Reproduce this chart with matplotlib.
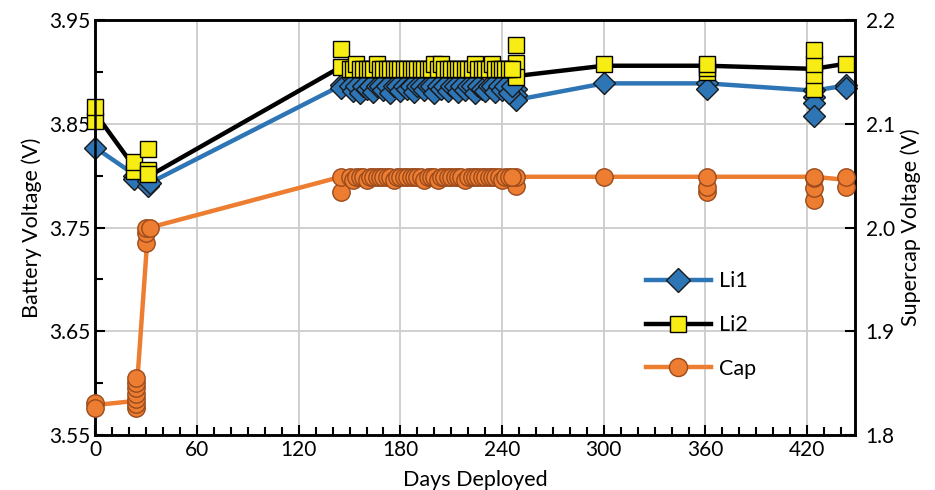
import numpy as np
import matplotlib
matplotlib.use("Agg")
import matplotlib.pyplot as plt
from matplotlib.lines import Line2D
from matplotlib.ticker import MultipleLocator

plt.rcParams['font.family'] = ['Lato', 'DejaVu Sans']

# ---- data ----
# days of the dense middle cluster of readings
mid_days = [145, 150, 152, 154, 156, 158, 160, 162, 164, 166, 168, 170, 172, 174,
            176, 178, 180, 182, 184, 186, 188, 190, 192, 194, 196, 198, 200, 202,
            204, 206, 208, 210, 212, 214, 216, 218, 220, 222, 224, 226, 228, 230,
            232, 234, 236, 238, 240, 242, 244, 246]
mid_li1 = [3.885, 3.886, 3.882, 3.886, 3.880, 3.886, 3.884, 3.886, 3.881, 3.886,
           3.886, 3.883, 3.886, 3.880, 3.886, 3.886, 3.882, 3.886, 3.884, 3.886,
           3.881, 3.886, 3.886, 3.883, 3.886, 3.886, 3.880, 3.886, 3.884, 3.886,
           3.882, 3.886, 3.886, 3.881, 3.886, 3.883, 3.886, 3.886, 3.880, 3.886,
           3.884, 3.882, 3.886, 3.886, 3.881, 3.886, 3.883, 3.886, 3.880, 3.886]
mid_li2 = [3.905, 3.903, 3.903, 3.908, 3.903, 3.903, 3.903, 3.903, 3.903, 3.908,
           3.903, 3.903, 3.903, 3.903, 3.903, 3.903, 3.903, 3.903, 3.903, 3.903,
           3.903, 3.903, 3.903, 3.903, 3.903, 3.903, 3.908, 3.903, 3.908, 3.903,
           3.903, 3.903, 3.903, 3.903, 3.903, 3.903, 3.903, 3.903, 3.908, 3.903,
           3.903, 3.903, 3.903, 3.908, 3.903, 3.903, 3.903, 3.903, 3.903, 3.903]
mid_cap = [2.049, 2.049, 2.046, 2.049, 2.049, 2.049, 2.046, 2.049, 2.049, 2.049,
           2.049, 2.049, 2.049, 2.049, 2.046, 2.049, 2.049, 2.049, 2.049, 2.049,
           2.049, 2.049, 2.049, 2.046, 2.049, 2.049, 2.049, 2.046, 2.049, 2.049,
           2.049, 2.049, 2.049, 2.049, 2.049, 2.046, 2.049, 2.049, 2.049, 2.049,
           2.049, 2.049, 2.049, 2.049, 2.049, 2.049, 2.046, 2.049, 2.049, 2.049]

# readings outside the middle cluster
li1_days = [0, 23, 23, 31, 31, 32, 145, 248, 248, 248, 300, 361, 361, 424, 424, 424, 424, 443, 443]
li1_vals = [3.827, 3.800, 3.797, 3.795, 3.790, 3.793, 3.887, 3.884, 3.878, 3.873,
            3.889, 3.889, 3.884, 3.883, 3.876, 3.870, 3.858, 3.887, 3.885]
li2_days = [0, 0, 23, 23, 31, 31, 31, 145, 248, 248, 248, 300, 361, 361, 361, 424, 424, 424, 424, 443]
li2_vals = [3.853, 3.866, 3.805, 3.813, 3.806, 3.802, 3.826, 3.922, 3.926, 3.909, 3.895,
            3.908, 3.900, 3.904, 3.908, 3.884, 3.897, 3.908, 3.921, 3.908]
cap_days = [0, 0, 24, 24, 24, 24, 24, 24, 24, 30, 30, 30, 32, 145, 248, 248,
            300, 361, 361, 361, 424, 424, 424, 424, 443, 443]
cap_vals = [1.831, 1.826, 1.826, 1.830, 1.835, 1.840, 1.845, 1.850, 1.855,
            1.985, 1.995, 2.000, 2.000, 2.034, 2.040, 2.049,
            2.049, 2.034, 2.039, 2.049, 2.027, 2.038, 2.048, 2.049, 2.039, 2.049]

# trend lines
li1_line_days = [0, 24, 32, 145, 246, 248, 300, 361, 424, 443]
li1_line_vals = [3.827, 3.800, 3.793, 3.887, 3.886, 3.873, 3.889, 3.889, 3.882, 3.887]
li2_line_days = [0, 24, 32, 145, 246, 248, 300, 361, 424, 443]
li2_line_vals = [3.860, 3.806, 3.800, 3.905, 3.905, 3.896, 3.906, 3.906, 3.903, 3.908]
cap_line_days = [0, 24, 25, 30.5, 32, 145, 248, 300, 361, 424, 443]
cap_line_vals = [1.829, 1.833, 1.858, 1.985, 2.000, 2.049, 2.049, 2.049, 2.049, 2.049, 2.046]

blue = '#2e75b6'
yellow = '#f7ec13'
orange = '#ed7d31'
orange_edge = '#9a4a1c'

fig = plt.figure(figsize=(9.35, 4.9), dpi=100)
ax = fig.add_axes([0.102, 0.112, 0.812, 0.847])
ax2 = ax.twinx()

ax.plot(li1_line_days, li1_line_vals, color=blue, lw=3.2, zorder=2)
ax.plot(li1_days + mid_days, li1_vals + mid_li1, ls='none', marker='D', ms=11,
        mfc=blue, mec='#1a1a1a', mew=1.0, zorder=3, clip_on=False)
ax.plot(li2_line_days, li2_line_vals, color='black', lw=3.2, zorder=4)
ax.plot(li2_days + mid_days, li2_vals + mid_li2, ls='none', marker='s', ms=12,
        mfc=yellow, mec='black', mew=1.0, zorder=5, clip_on=False)

ax2.plot(cap_line_days, cap_line_vals, color=orange, lw=3.2, zorder=2)
ax2.plot(cap_days + mid_days, cap_vals + mid_cap, ls='none', marker='o', ms=12.5,
         mfc=orange, mec=orange_edge, mew=1.0, zorder=3, clip_on=False)

ax.set_xlim(0, 448)
ax.set_ylim(3.55, 3.95)
ax2.set_ylim(1.8, 2.2)

ax.xaxis.set_major_locator(MultipleLocator(60))
ax.xaxis.set_minor_locator(MultipleLocator(10))
ax.yaxis.set_minor_locator(MultipleLocator(0.05))
ax.set_yticks([3.55, 3.65, 3.75, 3.85, 3.95])
ax.set_yticklabels(['3.55', '3.65', '3.75', '3.85', '3.95'])
ax2.set_yticks([1.8, 1.9, 2.0, 2.1, 2.2])
ax2.set_yticklabels(['1.8', '1.9', '2.0', '2.1', '2.2'])

ax.grid(True, which='major', color='#cccccc', lw=1.3)
ax.set_axisbelow(True)

for a in (ax, ax2):
    for s in a.spines.values():
        s.set_linewidth(1.8)
    a.tick_params(which='both', direction='in', labelsize=15, width=1.5)
    a.tick_params(which='major', length=7)
    a.tick_params(which='minor', length=6)
ax.tick_params(axis='y', which='both', right=False)
ax2.tick_params(axis='y', which='minor', right=False)
ax2.tick_params(axis='y', pad=8)

ax.set_xlabel('Days Deployed', fontsize=15.5, labelpad=7)
ax.set_ylabel('Battery Voltage (V)', fontsize=15.5, labelpad=5)
ax2.set_ylabel('Supercap Voltage (V)', fontsize=15.5, labelpad=4)

handles = [
    Line2D([], [], color=blue, lw=3.2, marker='D', ms=12, mfc=blue, mec='#1a1a1a'),
    Line2D([], [], color='black', lw=3.2, marker='s', ms=12, mfc=yellow, mec='black'),
    Line2D([], [], color=orange, lw=3.2, marker='o', ms=13, mfc=orange, mec=orange_edge),
]
ax2.legend(handles, ['Li1', 'Li2', 'Cap'], loc='center left', bbox_to_anchor=(0.7, 0.265),
           frameon=False, fontsize=15.5, labelspacing=1.1, handlelength=3.0, handletextpad=0.4)

fig.savefig('out.png', dpi=100)
